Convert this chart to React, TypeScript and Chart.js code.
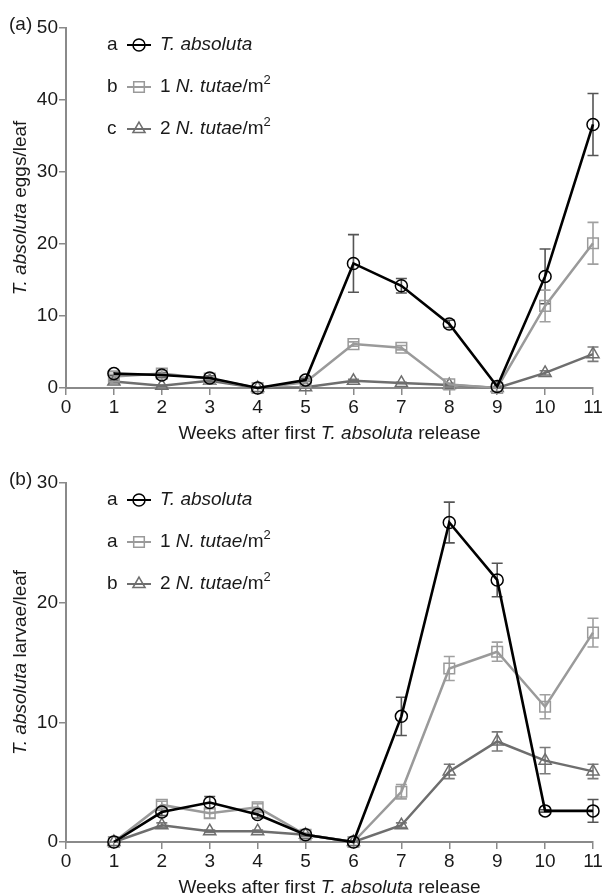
import React, { useEffect, useRef } from "react";
import { Chart, registerables } from "chart.js";

Chart.register(...registerables);

// ---------- data ----------
const weeks = [1, 2, 3, 4, 5, 6, 7, 8, 9, 10, 11];

// Panel (a): eggs per leaf
const eggsTabsoluta = [2.0, 1.8, 1.4, 0, 1.1, 17.3, 14.2, 8.9, 0.2, 15.5, 36.6];
const eggsTabsolutaErr = [0.3, 0.3, 0.3, 0, 0.2, 4.0, 1.0, 0.5, 0, 3.8, 4.3];
const eggsN1 = [1.6, 2.0, 1.3, 0, 0.8, 6.1, 5.6, 0.5, 0, 11.4, 20.1];
const eggsN1Err = [0.3, 0.4, 0.3, 0, 0.2, 0.3, 0.3, 0.2, 0, 2.2, 2.9];
const eggsN2 = [0.9, 0.3, 1.0, 0, 0.1, 1.0, 0.7, 0.4, 0, 2.1, 4.7];
const eggsN2Err = [0.2, 0.1, 0.2, 0, 0.1, 0.2, 0.1, 0.1, 0, 0.3, 1.0];

// Panel (b): larvae per leaf
const larvaeTabsoluta = [0, 2.5, 3.3, 2.3, 0.6, 0, 10.5, 26.7, 21.9, 2.6, 2.6];
const larvaeTabsolutaErr = [0, 0.3, 0.5, 0.3, 0.1, 0, 1.6, 1.7, 1.4, 0.1, 0.95];
const larvaeN1 = [0, 3.1, 2.4, 2.9, 0.6, 0, 4.2, 14.5, 15.9, 11.3, 17.5];
const larvaeN1Err = [0, 0.3, 0.4, 0.3, 0.1, 0, 0.6, 1.0, 0.8, 1.0, 1.2];
const larvaeN2 = [0, 1.4, 0.9, 0.9, 0.6, 0, 1.4, 5.9, 8.4, 6.8, 5.9];
const larvaeN2Err = [0, 0.2, 0.1, 0.1, 0.1, 0, 0.2, 0.6, 0.8, 1.1, 0.6];

const eggsLetters = ["a", "b", "c"];
const larvaeLetters = ["a", "a", "b"];

const xMin = 0;
const xMax = 11;
const eggsYMax = 50;
const larvaeYMax = 30;

// ---------- styles ----------
const FONT = "'Liberation Sans', Arial, sans-serif";
const TEXT = "#1a1a1a";
const AXIS = "#8a8a8a";
const FS = 19;

type Part = { t: string; s: "n" | "i" | "sup" };

const seriesStyles = [
  { color: "#000000", err: "#555555", style: "circle", radius: 6, width: 2.6 },
  { color: "#9a9a9a", err: "#a0a0a0", style: "rect", radius: 7.5, width: 2.5 },
  { color: "#6e6e6e", err: "#7a7a7a", style: "triangle", radius: 7, width: 2.5 },
];

const seriesLabels: Part[][] = [
  [{ t: "T. absoluta", s: "i" }],
  [
    { t: "1 ", s: "n" },
    { t: "N. tutae", s: "i" },
    { t: "/m", s: "n" },
    { t: "2", s: "sup" },
  ],
  [
    { t: "2 ", s: "n" },
    { t: "N. tutae", s: "i" },
    { t: "/m", s: "n" },
    { t: "2", s: "sup" },
  ],
];

const xTitle: Part[] = [
  { t: "Weeks after first ", s: "n" },
  { t: "T. absoluta", s: "i" },
  { t: " release", s: "n" },
];

function fontFor(s: Part["s"], size: number) {
  if (s === "i") return `italic ${size}px ${FONT}`;
  if (s === "sup") return `${Math.round(size * 0.68)}px ${FONT}`;
  return `${size}px ${FONT}`;
}

function measureParts(ctx: CanvasRenderingContext2D, parts: Part[], size: number) {
  let w = 0;
  for (const p of parts) {
    ctx.font = fontFor(p.s, size);
    w += ctx.measureText(p.t).width;
  }
  return w;
}

function drawParts(ctx: CanvasRenderingContext2D, parts: Part[], x: number, y: number, size: number) {
  let cx = x;
  ctx.textBaseline = "middle";
  ctx.textAlign = "left";
  for (const p of parts) {
    ctx.font = fontFor(p.s, size);
    const dy = p.s === "sup" ? -size * 0.36 : 0;
    ctx.fillText(p.t, cx, y + dy);
    cx += ctx.measureText(p.t).width;
  }
}

function drawMarker(ctx: CanvasRenderingContext2D, style: string, x: number, y: number, r: number) {
  ctx.beginPath();
  if (style === "circle") {
    ctx.arc(x, y, r, 0, Math.PI * 2);
  } else if (style === "rect") {
    const s = Math.SQRT1_2 * r;
    ctx.rect(x - s, y - s, 2 * s, 2 * s);
  } else {
    const h = r * 1.5;
    const w = r * Math.sqrt(3) / 2;
    ctx.moveTo(x, y - r);
    ctx.lineTo(x + w, y + h - r);
    ctx.lineTo(x - w, y + h - r);
    ctx.closePath();
  }
  ctx.stroke();
}

type PanelProps = {
  height: number;
  top: number;
  padTop: number;
  xAxisHeight: number;
  yMax: number;
  series: number[][];
  errors: number[][];
  letters: string[];
  yTitle: Part[];
  panelLabel: string;
};

function Panel(props: PanelProps) {
  const ref = useRef<HTMLCanvasElement | null>(null);

  useEffect(() => {
    const canvas = ref.current;
    if (!canvas) return;

    const decorations = {
      id: "decorations",
      beforeDatasetsDraw(chart: any) {
        const ctx: CanvasRenderingContext2D = chart.ctx;
        const yScale = chart.scales.y;
        ctx.save();
        chart.data.datasets.forEach((ds: any, di: number) => {
          const meta = chart.getDatasetMeta(di);
          ctx.strokeStyle = ds.errColor;
          ctx.lineWidth = 1.6;
          meta.data.forEach((pt: any, i: number) => {
            const e = ds.errors[i];
            if (!e) return;
            const v = ds.data[i].y;
            const yTop = yScale.getPixelForValue(v + e);
            const yBot = yScale.getPixelForValue(v - e);
            const x = pt.x;
            ctx.beginPath();
            ctx.moveTo(x, yTop);
            ctx.lineTo(x, yBot);
            ctx.moveTo(x - 5.5, yTop);
            ctx.lineTo(x + 5.5, yTop);
            ctx.moveTo(x - 5.5, yBot);
            ctx.lineTo(x + 5.5, yBot);
            ctx.stroke();
          });
        });
        ctx.restore();
      },
      afterDraw(chart: any) {
        const ctx: CanvasRenderingContext2D = chart.ctx;
        const area = chart.chartArea;
        ctx.save();
        ctx.fillStyle = TEXT;
        // x title
        const xw = measureParts(ctx, xTitle, FS);
        drawParts(ctx, xTitle, (area.left + area.right) / 2 - xw / 2, area.bottom + 46, FS);
        // y title
        const yw = measureParts(ctx, props.yTitle, FS);
        ctx.save();
        ctx.translate(21, (area.top + area.bottom) / 2);
        ctx.rotate(-Math.PI / 2);
        drawParts(ctx, props.yTitle, -yw / 2, 0, FS);
        ctx.restore();
        // panel label
        ctx.font = `${FS}px ${FONT}`;
        ctx.textAlign = "left";
        ctx.textBaseline = "middle";
        ctx.fillText(props.panelLabel, 9, area.top - 3);
        // legend
        for (let i = 0; i < 3; i++) {
          const y = area.top + 17 + i * 42;
          const st = seriesStyles[i];
          ctx.fillStyle = TEXT;
          ctx.font = `${FS}px ${FONT}`;
          ctx.textAlign = "left";
          ctx.fillText(props.letters[i], 107, y);
          ctx.strokeStyle = st.color;
          ctx.lineWidth = 2;
          ctx.beginPath();
          ctx.moveTo(127, y);
          ctx.lineTo(151, y);
          ctx.stroke();
          ctx.lineWidth = 1.5;
          drawMarker(ctx, st.style, 139, y, st.radius);
          ctx.fillStyle = TEXT;
          drawParts(ctx, seriesLabels[i], 160, y, FS);
        }
        ctx.restore();
      },
    };

    const datasets = props.series.map((vals, si) => {
      const st = seriesStyles[si];
      return {
        data: weeks.map((w, i) => ({ x: w, y: vals[i] })),
        errors: props.errors[si],
        errColor: st.err,
        borderColor: st.color,
        borderWidth: st.width,
        pointStyle: st.style,
        pointRadius: st.radius,
        pointBorderColor: st.color,
        pointBorderWidth: 1.5,
        pointBackgroundColor: "rgba(255,255,255,0)",
        fill: false,
        tension: 0,
        clip: false,
      };
    });

    const chart = new Chart(canvas, {
      type: "line",
      data: { datasets: datasets as any },
      options: {
        animation: false,
        responsive: false,
        maintainAspectRatio: false,
        layout: { padding: { top: props.padTop, right: 12, left: 0, bottom: 0 } },
        plugins: { legend: { display: false }, tooltip: { enabled: false } },
        scales: {
          x: {
            type: "linear",
            min: xMin,
            max: xMax,
            afterFit: (s: any) => {
              s.height = props.xAxisHeight;
            },
            ticks: {
              stepSize: 1,
              autoSkip: false,
              color: TEXT,
              font: { family: FONT, size: FS },
              padding: 1,
            },
            grid: { drawOnChartArea: false, drawTicks: true, tickLength: 7, color: AXIS, lineWidth: 1.5 },
            border: { color: AXIS, width: 2 },
          },
          y: {
            type: "linear",
            min: 0,
            max: props.yMax,
            afterFit: (s: any) => {
              s.width = 66;
            },
            ticks: {
              stepSize: 10,
              color: TEXT,
              font: { family: FONT, size: FS },
              padding: 1,
            },
            grid: { drawOnChartArea: false, drawTicks: true, tickLength: 7, color: AXIS, lineWidth: 1.5 },
            border: { color: AXIS, width: 2 },
          },
        },
      },
      plugins: [decorations],
    });

    return () => chart.destroy();
  }, []);

  return (
    <canvas
      ref={ref}
      width={605}
      height={props.height}
      style={{ position: "absolute", left: 0, top: props.top, width: 605, height: props.height }}
    />
  );
}

export default function App() {
  return (
    <div style={{ position: "absolute", left: 0, top: 0, width: 605, height: 895, background: "#fff" }}>
      <Panel
        height={445}
        top={0}
        padTop={28}
        xAxisHeight={57}
        yMax={eggsYMax}
        series={[eggsTabsoluta, eggsN1, eggsN2]}
        errors={[eggsTabsolutaErr, eggsN1Err, eggsN2Err]}
        letters={eggsLetters}
        yTitle={[
          { t: "T. absoluta", s: "i" },
          { t: " eggs/leaf", s: "n" },
        ]}
        panelLabel="(a)"
      />
      <Panel
        height={450}
        top={445}
        padTop={38}
        xAxisHeight={53}
        yMax={larvaeYMax}
        series={[larvaeTabsoluta, larvaeN1, larvaeN2]}
        errors={[larvaeTabsolutaErr, larvaeN1Err, larvaeN2Err]}
        letters={larvaeLetters}
        yTitle={[
          { t: "T. absoluta", s: "i" },
          { t: " larvae/leaf", s: "n" },
        ]}
        panelLabel="(b)"
      />
    </div>
  );
}
